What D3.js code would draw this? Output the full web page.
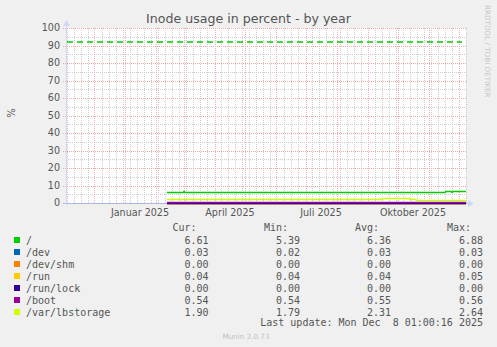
<!DOCTYPE html>
<html>
<head>
<meta charset="utf-8">
<script src="https://cdn.jsdelivr.net/npm/d3@7"></script>
<style>
  body { margin: 0; background: #f0f0f0; }
  svg { display: block; }
</style>
</head>
<body>
<div id="chart"></div>
<script>
(() => {
  // Legend / series info
  const seriesNames = ['/', '/dev', '/dev/shm', '/run', '/run/lock', '/boot', '/var/lbstorage']
  const seriesColors = ['#00CC00', '#0066B3', '#FF8000', '#FFCC00', '#330099', '#990099', '#CCFF00']
  const curVals = ['6.61', '0.03', '0.00', '0.04', '0.00', '0.54', '1.90']
  const minVals = ['5.39', '0.02', '0.00', '0.04', '0.00', '0.54', '1.79']
  const avgVals = ['6.36', '0.03', '0.00', '0.04', '0.00', '0.55', '2.31']
  const maxVals = ['6.88', '0.03', '0.00', '0.05', '0.00', '0.56', '2.64']

  // Series points (date, value)
  const rootSeries = [
    ['2025-02-12', 6.32], ['2025-02-28', 6.32], ['2025-03-01', 6.85], ['2025-03-02', 6.32],
    ['2025-11-17', 6.32], ['2025-11-18', 6.75], ['2025-11-23', 6.75], ['2025-11-24', 6.30],
    ['2025-11-25', 6.70], ['2025-12-08', 6.61]
  ]
  const devSeries = [['2025-02-12', 0.03], ['2025-12-08', 0.03]]
  const devShmSeries = [['2025-02-12', 0.00], ['2025-12-08', 0.00]]
  const runSeries = [['2025-02-12', 0.04], ['2025-12-08', 0.04]]
  const runLockSeries = [['2025-02-12', 0.00], ['2025-12-08', 0.00]]
  const bootSeries = [['2025-02-12', 0.55], ['2025-12-08', 0.54]]
  const lbSeries = [
    ['2025-02-12', 2.38], ['2025-09-15', 2.38], ['2025-09-16', 2.64], ['2025-10-12', 2.64],
    ['2025-10-13', 2.45], ['2025-10-19', 2.45], ['2025-10-20', 1.85], ['2025-12-08', 1.90]
  ]
  const allSeries = [rootSeries, devSeries, devShmSeries, runSeries, runLockSeries, bootSeries, lbSeries]

  const warnLevel = 92
  const yTicks = [0, 10, 20, 30, 40, 50, 60, 70, 80, 90, 100]
  const lastUpdate = 'Last update: Mon Dec  8 01:00:16 2025'

  const width = 497
  const height = 347
  const plot = { left: 66, right: 466, top: 28, bottom: 203 }

  const parse = d3.utcParse('%Y-%m-%d')
  const endTime = new Date(Date.UTC(2025, 11, 8, 0, 0, 16))
  const startTime = new Date(endTime.getTime() - 400 * 86400000)

  const svg = d3.select('#chart')
    .append('svg')
    .attr('width', width)
    .attr('height', height)
    .style('font-family', 'DejaVu Sans, sans-serif')

  svg.append('rect')
    .attr('width', width).attr('height', height)
    .attr('fill', '#f0f0f0')

  // Canvas
  svg.append('rect')
    .attr('x', plot.left).attr('y', plot.top)
    .attr('width', plot.right - plot.left).attr('height', plot.bottom - plot.top)
    .attr('fill', '#fff')

  const x = d3.scaleUtc().domain([startTime, endTime]).range([plot.left, plot.right])
  const y = d3.scaleLinear().domain([0, 100]).range([plot.bottom, plot.top])

  //=======================================================
  // Grid

  const grid = svg.append('g').attr('shape-rendering', 'crispEdges')
  const months = d3.utcMonth.range(startTime, endTime)
  const monthX = months.map(d => Math.round(x(d)))
  const weeks = d3.utcMonday.range(startTime, endTime)
    .filter(d => !monthX.some(m => Math.abs(m - Math.round(x(d))) < 2))

  // minor horizontal grid every 5
  grid.selectAll('.hminor')
    .data(d3.range(5, 100, 10))
    .join('line')
    .attr('x1', plot.left).attr('x2', plot.right)
    .attr('y1', d => Math.round(y(d)) + 0.5).attr('y2', d => Math.round(y(d)) + 0.5)
    .attr('stroke', '#cdcdcd')
    .attr('stroke-dasharray', '1,1')

  // minor vertical grid weekly
  grid.selectAll('.vminor')
    .data(weeks)
    .join('line')
    .attr('x1', d => Math.round(x(d)) + 0.5).attr('x2', d => Math.round(x(d)) + 0.5)
    .attr('y1', plot.top).attr('y2', plot.bottom)
    .attr('stroke', '#cdcdcd')
    .attr('stroke-dasharray', '1,1')

  // major horizontal grid every 10
  grid.selectAll('.hmajor')
    .data(yTicks.filter(d => d > 0))
    .join('line')
    .attr('x1', plot.left - 3).attr('x2', plot.right)
    .attr('y1', d => Math.round(y(d)) + 0.5).attr('y2', d => Math.round(y(d)) + 0.5)
    .attr('stroke', '#eeaaaa')
    .attr('stroke-dasharray', '1,1')

  // major vertical grid monthly
  grid.selectAll('.vmajor')
    .data(months)
    .join('line')
    .attr('x1', d => Math.round(x(d)) + 0.5).attr('x2', d => Math.round(x(d)) + 0.5)
    .attr('y1', plot.top).attr('y2', plot.bottom)
    .attr('stroke', '#f0b0b0')
    .attr('stroke-dasharray', '1,1')

  //=======================================================
  // Axes

  svg.append('line')
    .attr('x1', plot.left - 3).attr('x2', plot.right + 3)
    .attr('y1', plot.bottom + 0.5).attr('y2', plot.bottom + 0.5)
    .attr('stroke', '#b0b4e8')
    .attr('shape-rendering', 'crispEdges')

  svg.append('line')
    .attr('x1', plot.left + 0.5).attr('x2', plot.left + 0.5)
    .attr('y1', plot.bottom + 3).attr('y2', plot.top - 4)
    .attr('stroke', '#cfd6f8')
    .attr('shape-rendering', 'crispEdges')

  // arrows
  svg.append('path')
    .attr('d', `M${plot.right + 2},${plot.bottom - 3} L${plot.right + 8},${plot.bottom + 0.5} L${plot.right + 2},${plot.bottom + 4} Z`)
    .attr('fill', '#cfd6f8')
  svg.append('path')
    .attr('d', `M${plot.left - 3},${plot.top - 2} L${plot.left + 0.5},${plot.top - 8} L${plot.left + 4},${plot.top - 2} Z`)
    .attr('fill', '#cfd6f8')

  // y labels
  svg.append('g')
    .selectAll('text')
    .data(yTicks)
    .join('text')
    .attr('x', 60)
    .attr('y', d => y(d))
    .attr('dy', '0.35em')
    .attr('text-anchor', 'end')
    .attr('fill', '#555')
    .style('font-size', '9.6px')
    .text(d => d)

  // x labels (rrdtool places them half a month after the tick)
  const monthFmt = d3.utcFormat('%m')
  const monthNames = { '01': 'Januar', '04': 'April', '07': 'Juli', '10': 'Oktober' }
  svg.append('g')
    .selectAll('text')
    .data(d3.utcMonth.every(3).range(startTime, endTime))
    .join('text')
    .attr('x', d => x(new Date(d.getTime() + 15 * 86400000)))
    .attr('y', 216)
    .attr('text-anchor', 'middle')
    .attr('fill', '#555')
    .style('font-size', '9.6px')
    .text(d => `${monthNames[monthFmt(d)]} ${d.getUTCFullYear()}`)

  //=======================================================
  // Warning rule
  svg.append('line')
    .attr('x1', plot.left + 1).attr('x2', plot.right - 4)
    .attr('y1', Math.round(y(warnLevel))).attr('y2', Math.round(y(warnLevel)))
    .attr('stroke', '#00CC00')
    .attr('stroke-width', 1.6)
    .attr('stroke-dasharray', '6,4')

  // Series lines, snapped to whole pixels like rrdtool
  const line = d3.line()
    .x(d => x(parse(d[0])))
    .y(d => Math.round(y(d[1])) + 0.5)

  svg.append('g')
    .selectAll('path')
    .data(allSeries)
    .join('path')
    .attr('fill', 'none')
    .attr('stroke', (d, i) => seriesColors[i])
    .attr('stroke-width', 1.5)
    .attr('d', line)

  //=======================================================
  // Title and side texts
  svg.append('text')
    .attr('x', 248.5).attr('y', 23)
    .attr('text-anchor', 'middle')
    .attr('fill', '#555')
    .style('font-size', '12.6px')
    .text('Inode usage in percent - by year')

  svg.append('text')
    .attr('transform', 'translate(15, 113) rotate(-90)')
    .attr('text-anchor', 'middle')
    .attr('fill', '#555')
    .style('font-size', '10px')
    .text('%')

  svg.append('text')
    .attr('transform', 'translate(485, 5) rotate(90)')
    .attr('fill', '#c8c8c8')
    .style('font-size', '7.2px')
    .text('RRDTOOL / TOBI OETIKER')

  svg.append('text')
    .attr('x', 246).attr('y', 339)
    .attr('text-anchor', 'middle')
    .attr('fill', '#c0c0c0')
    .style('font-size', '7.2px')
    .text('Munin 2.0.73')

  //=======================================================
  // Legend
  const legend = svg.append('g')
    .style('font-family', 'DejaVu Sans Mono, monospace')
    .style('font-size', '10px')
    .attr('fill', '#555')

  const colEnds = [208.5, 300, 391, 483]
  const headers = ['Cur:', 'Min:', 'Avg:', 'Max:']
  legend.selectAll('.hdr')
    .data(headers)
    .join('text')
    .attr('x', (d, i) => colEnds[i] - 12)
    .attr('y', 231)
    .attr('text-anchor', 'end')
    .text(d => d)

  const rows = legend.selectAll('.row')
    .data(seriesNames)
    .join('g')
    .attr('transform', (d, i) => `translate(0, ${240 + i * 12})`)

  rows.append('rect')
    .attr('x', 14).attr('y', -3)
    .attr('width', 6).attr('height', 6)
    .attr('fill', (d, i) => seriesColors[i])

  rows.append('text')
    .attr('x', 26).attr('y', 3.5)
    .text(d => d)

  const cols = [curVals, minVals, avgVals, maxVals]
  cols.forEach((vals, c) => {
    rows.append('text')
      .attr('x', colEnds[c]).attr('y', 3.5)
      .attr('text-anchor', 'end')
      .text((d, i) => vals[i])
  })

  // keep the double space of the rrdtool date
  legend.append('text')
    .attr('x', 483).attr('y', 326)
    .attr('text-anchor', 'end')
    .text(lastUpdate.replace(/ /g, '\u00a0'))
})()
</script>
</body>
</html>
